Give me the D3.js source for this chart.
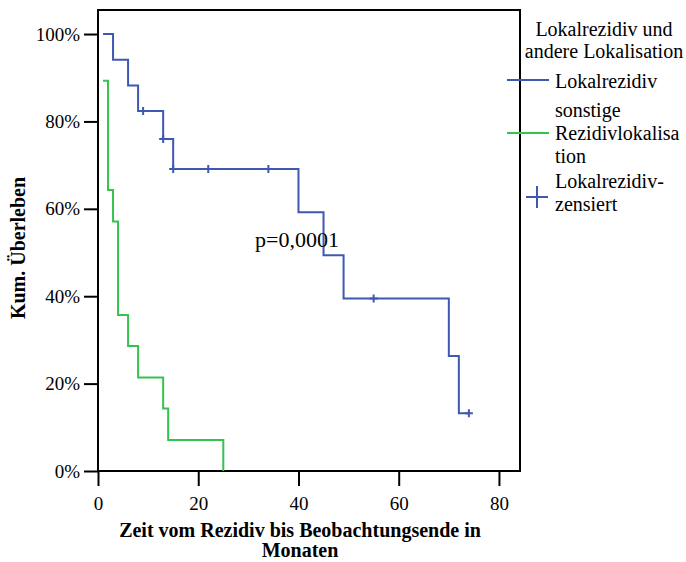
<!DOCTYPE html>
<html>
<head>
<meta charset="utf-8">
<script src="https://cdn.jsdelivr.net/npm/d3@7"></script>
<style>
  body { margin: 0; background: #fff; }
  text { font-family: "Liberation Serif", "Times New Roman", serif; fill: #000; }
</style>
</head>
<body>
<div id="canva"></div>
<script>
// Kaplan-Meier steps (time in months, survival 0..1)
const localTimes = [1, 3, 6, 8, 13, 15, 40, 45, 49, 70, 72, 74];
const localSurv  = [1.0, 0.941, 0.882, 0.824, 0.760, 0.691, 0.592, 0.494, 0.395, 0.263, 0.132, 0.132];
// censored cases of the local recurrence group
const censTimes = [9, 13, 15, 22, 34, 55, 74];
const censSurv  = [0.824, 0.760, 0.691, 0.691, 0.691, 0.395, 0.132];

const otherTimes = [1, 2, 3, 4, 6, 8, 13, 14, 25];
const otherSurv  = [0.893, 0.643, 0.571, 0.357, 0.286, 0.214, 0.143, 0.071, 0];

const xTicks = [0, 20, 40, 60, 80];
const yTicks = [0, 0.2, 0.4, 0.6, 0.8, 1.0];

const blue = '#3f58b1';
const green = '#35c24f';
const serif = '"Liberation Serif", "Times New Roman", serif';

const width = 686;
const height = 562;
const plot = {left: 98, top: 10, right: 520, bottom: 471};

const svg = d3.select('#canva')
              .append('svg')
              .attr('width', width)
              .attr('height', height)
              .attr('font-family', serif);

const xScale = d3.scaleLinear().domain([0, 84.2]).range([plot.left, plot.right]);
const yScale = d3.scaleLinear().domain([0, 1.055]).range([plot.bottom, plot.top]);

// axes
const yAxis = d3.axisLeft(yScale)
                .tickValues(yTicks)
                .tickFormat(d => Math.round(d * 100) + '%')
                .tickSize(14)
                .tickSizeOuter(0)
                .tickPadding(4);

const xAxis = d3.axisBottom(xScale)
                .tickValues(xTicks)
                .tickSize(15)
                .tickSizeOuter(0)
                .tickPadding(11);

const gy = svg.append('g')
              .attr('transform', `translate(${plot.left},0)`)
              .call(yAxis);
const gx = svg.append('g')
              .attr('transform', `translate(0,${plot.bottom})`)
              .call(xAxis);

[gx, gy].forEach(g => {
    g.attr('font-family', serif);
    g.select('.domain').remove();
    g.selectAll('line').attr('stroke', '#000').attr('stroke-width', 2);
    g.selectAll('text').attr('font-size', 19).attr('fill', '#000');
});

// frame
svg.append('rect')
   .attr('x', plot.left)
   .attr('y', plot.top)
   .attr('width', plot.right - plot.left)
   .attr('height', plot.bottom - plot.top)
   .attr('fill', 'none')
   .attr('stroke', '#000')
   .attr('stroke-width', 2);

// curves
const step = d3.line()
               .x(d => xScale(d[0]))
               .y(d => yScale(d[1]))
               .curve(d3.curveStepAfter);

svg.append('path')
   .datum(otherTimes.map((t, i) => [t, otherSurv[i]]))
   .attr('d', step)
   .attr('fill', 'none')
   .attr('stroke', green)
   .attr('stroke-width', 2);

svg.append('path')
   .datum(localTimes.map((t, i) => [t, localSurv[i]]))
   .attr('d', step)
   .attr('fill', 'none')
   .attr('stroke', blue)
   .attr('stroke-width', 2);

// censor marks
svg.selectAll('.cens')
   .data(censTimes.map((t, i) => [t, censSurv[i]]))
   .enter()
   .append('path')
   .attr('class', 'cens')
   .attr('d', d => {
       const cx = xScale(d[0]), cy = yScale(d[1]);
       return `M${cx - 4},${cy}H${cx + 4}M${cx},${cy - 4}V${cy + 4}`;
   })
   .attr('stroke', blue)
   .attr('stroke-width', 2);

// p value
svg.append('text')
   .attr('x', 255)
   .attr('y', 247)
   .attr('font-size', 22)
   .text('p=0,0001');

// axis titles
svg.append('text')
   .attr('x', 300)
   .attr('y', 537)
   .attr('text-anchor', 'middle')
   .attr('font-size', 20)
   .attr('font-weight', 'bold')
   .text('Zeit vom Rezidiv bis Beobachtungsende in');
svg.append('text')
   .attr('x', 300)
   .attr('y', 557)
   .attr('text-anchor', 'middle')
   .attr('font-size', 20)
   .attr('font-weight', 'bold')
   .text('Monaten');

svg.append('text')
   .attr('transform', 'translate(25,248) rotate(-90)')
   .attr('text-anchor', 'middle')
   .attr('font-size', 20)
   .attr('font-weight', 'bold')
   .text('Kum. Überleben');

// legend
const legend = svg.append('g').attr('font-size', 20);
legend.append('text').attr('x', 604).attr('y', 36).attr('text-anchor', 'middle').text('Lokalrezidiv und');
legend.append('text').attr('x', 604).attr('y', 58).attr('text-anchor', 'middle').text('andere Lokalisation');

legend.append('line').attr('x1', 507).attr('x2', 549).attr('y1', 80).attr('y2', 80)
      .attr('stroke', blue).attr('stroke-width', 2);
legend.append('text').attr('x', 555).attr('y', 88).text('Lokalrezidiv');

legend.append('line').attr('x1', 507).attr('x2', 549).attr('y1', 133).attr('y2', 133)
      .attr('stroke', green).attr('stroke-width', 2);
legend.append('text').attr('x', 555).attr('y', 117).text('sonstige');
legend.append('text').attr('x', 555).attr('y', 140).text('Rezidivlokalisa');
legend.append('text').attr('x', 555).attr('y', 163).text('tion');

legend.append('path')
      .attr('d', 'M526,197H548M537,186V208')
      .attr('stroke', blue).attr('stroke-width', 2);
legend.append('text').attr('x', 555).attr('y', 188).text('Lokalrezidiv-');
legend.append('text').attr('x', 555).attr('y', 211).text('zensiert');
</script>
</body>
</html>
